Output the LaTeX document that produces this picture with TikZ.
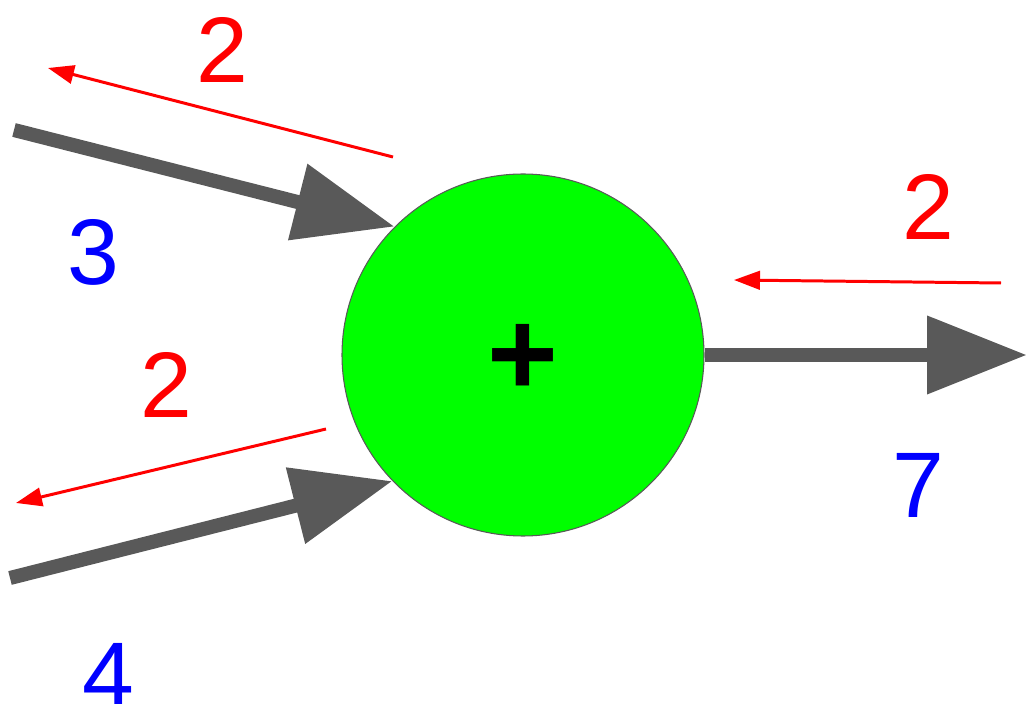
\documentclass[tikz,border=0pt]{standalone}
\usepackage{fontspec}
\setmainfont{Liberation Sans}
\usetikzlibrary{arrows.meta}
\definecolor{flowgray}{HTML}{595959}
\definecolor{sumgreen}{HTML}{00FF00}
\tikzset{
  flow/.style={flowgray,line width=8pt,-{Triangle[length=2cm,width=1.5cm]}},
  back/.style={red,line width=1.7pt,-{Triangle[length=0.52cm,width=0.37cm]}},
  fwdnum/.style={blue,font=\fontsize{53}{60}\selectfont},
  bwdnum/.style={red,font=\fontsize{53}{60}\selectfont}
}
\begin{document}
\begin{tikzpicture}
  \useasboundingbox (0,0) rectangle (20.54,14.08);

  % adder
  \node[circle,draw=flowgray,line width=0.6pt,fill=sumgreen,minimum size=7.24cm,inner sep=0pt] (sum) at (10.46,6.98) {};
  \node[font=\fontsize{69}{72}\selectfont\bfseries,yshift=-0.09cm] (plus) at (sum.center) {+};

  % inputs and output
  \coordinate (inA) at (0.28,11.48);
  \coordinate (inB) at (0.2,2.52);
  \coordinate (out) at (20.54,6.98);
  \draw[flow] (inA) -- (sum.135);
  \draw[flow] (inB) -- (sum.224);
  \draw[flow] (sum.east) -- (out);

  % gradients
  \coordinate (gA0) at (7.86,10.94);
  \coordinate (gA1) at (0.96,12.72);
  \coordinate (gB0) at (6.52,5.50);
  \coordinate (gB1) at (0.32,4.02);
  \coordinate (gO0) at (20.02,8.42);
  \coordinate (gO1) at (14.68,8.48);
  \draw[back] (gA0) -- (gA1);
  \draw[back] (gB0) -- (gB1);
  \draw[back] (gO0) -- (gO1);

  % values
  \node[fwdnum] (valA) at (1.86,9.04) {3};
  \node[fwdnum] (valB) at (2.16,0.58) {4};
  \node[fwdnum] (valO) at (18.36,4.38) {7};
  \node[bwdnum] (gradA) at (4.44,13.08) {2};
  \node[bwdnum] (gradB) at (3.32,6.38) {2};
  \node[bwdnum] (gradO) at (18.56,9.94) {2};
\end{tikzpicture}
\end{document}
